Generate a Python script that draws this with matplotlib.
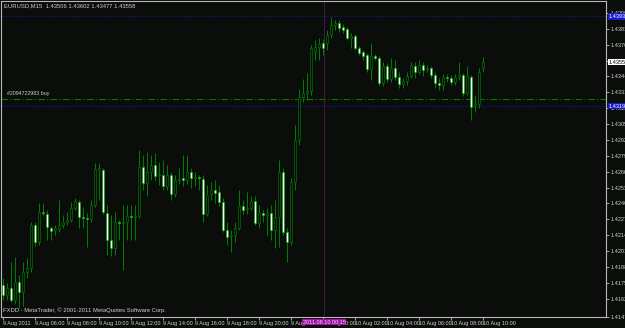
import matplotlib
matplotlib.use("Agg")
import matplotlib.pyplot as plt
import matplotlib.transforms as mtransforms

plt.rcParams['font.family'] = ['Liberation Sans', 'DejaVu Sans']

# EURUSD M15 bars, 9 Aug 2011 04:00 .. 10 Aug 2011 10:00
opens = [1.41732, 1.41650, 1.41707, 1.41609, 1.41756, 1.41675, 1.41838, 1.41871, 1.42223, 1.42084,
         1.42330, 1.42313, 1.42199, 1.42182, 1.42190, 1.42223, 1.42248, 1.42264, 1.42362, 1.42412,
         1.42289, 1.42281, 1.42272, 1.42387, 1.42674, 1.42674, 1.42322, 1.42100, 1.42035, 1.42248,
         1.42240, 1.42248, 1.42297, 1.42289, 1.42297, 1.42698, 1.42567, 1.42657, 1.42715, 1.42633,
         1.42633, 1.42543, 1.42633, 1.42477, 1.42592, 1.42608, 1.42592, 1.42657, 1.42608, 1.42616,
         1.42600, 1.42313, 1.42477, 1.42510, 1.42494, 1.42412, 1.42182, 1.42133, 1.42141, 1.42199,
         1.42379, 1.42354, 1.42362, 1.42420, 1.42240, 1.42322, 1.42305, 1.42322, 1.42182, 1.42289,
         1.42657, 1.42166, 1.42084, 1.42575, 1.42919, 1.43272, 1.43304, 1.43321, 1.43640, 1.43681,
         1.43714, 1.43714, 1.43779, 1.43861, 1.43878, 1.43845, 1.43828, 1.43755, 1.43771, 1.43673,
         1.43640, 1.43616, 1.43501, 1.43607, 1.43591, 1.43386, 1.43525, 1.43419, 1.43509, 1.43435,
         1.43378, 1.43403, 1.43444, 1.43525, 1.43476, 1.43534, 1.43501, 1.43509, 1.43452, 1.43386,
         1.43370, 1.43435, 1.43427, 1.43394, 1.43435, 1.43452, 1.43304, 1.43435, 1.43198, 1.43214,
         1.43506]
highs = [1.41789, 1.41748, 1.41920, 1.41961, 1.41814, 1.41920, 1.41953, 1.42248, 1.42248, 1.42403,
         1.42403, 1.42346, 1.42215, 1.42223, 1.42428, 1.42305, 1.42330, 1.42412, 1.42444, 1.42428,
         1.42371, 1.42322, 1.42428, 1.42731, 1.42731, 1.42690, 1.42387, 1.42305, 1.42330, 1.42264,
         1.42387, 1.42387, 1.42387, 1.42387, 1.42837, 1.42797, 1.42821, 1.42797, 1.42813, 1.42739,
         1.42756, 1.42715, 1.42657, 1.42633, 1.42690, 1.42797, 1.42797, 1.42690, 1.42657, 1.42633,
         1.42633, 1.42551, 1.42575, 1.42592, 1.42551, 1.42444, 1.42248, 1.42182, 1.42248, 1.42510,
         1.42428, 1.42494, 1.42461, 1.42461, 1.42387, 1.42346, 1.42362, 1.42387, 1.42428, 1.42756,
         1.42690, 1.42199, 1.42608, 1.43042, 1.43337, 1.43419, 1.43468, 1.43697, 1.43738, 1.43755,
         1.43747, 1.43820, 1.43927, 1.43902, 1.43902, 1.43869, 1.43845, 1.43796, 1.43788, 1.43689,
         1.43656, 1.43632, 1.43714, 1.43624, 1.43607, 1.43558, 1.43550, 1.43591, 1.43575, 1.43476,
         1.43427, 1.43476, 1.43558, 1.43558, 1.43575, 1.43558, 1.43534, 1.43525, 1.43476, 1.43427,
         1.43460, 1.43460, 1.43452, 1.43460, 1.43558, 1.43468, 1.43525, 1.43452, 1.43288, 1.43509,
         1.43602]
lows = [1.41609, 1.41609, 1.41593, 1.41576, 1.41543, 1.41560, 1.41789, 1.41838, 1.42051, 1.42059,
        1.42297, 1.42100, 1.42100, 1.42141, 1.42166, 1.42199, 1.42223, 1.42248, 1.42346, 1.42199,
        1.42199, 1.42043, 1.42248, 1.42371, 1.42428, 1.42313, 1.41978, 1.41969, 1.41978, 1.42100,
        1.41855, 1.42100, 1.42100, 1.42100, 1.42281, 1.42510, 1.42461, 1.42592, 1.42592, 1.42551,
        1.42510, 1.42510, 1.42428, 1.42453, 1.42559, 1.42543, 1.42559, 1.42526, 1.42543, 1.42510,
        1.42248, 1.42297, 1.42428, 1.42403, 1.42379, 1.42166, 1.42059, 1.42002, 1.42084, 1.42182,
        1.42313, 1.42313, 1.42346, 1.42223, 1.42199, 1.42248, 1.42141, 1.42100, 1.42035, 1.42043,
        1.42141, 1.41920, 1.42059, 1.42510, 1.42878, 1.43231, 1.43247, 1.43288, 1.43575, 1.43575,
        1.43616, 1.43656, 1.43755, 1.43820, 1.43804, 1.43796, 1.43738, 1.43673, 1.43656, 1.43616,
        1.43575, 1.43476, 1.43411, 1.43575, 1.43362, 1.43362, 1.43394, 1.43394, 1.43411, 1.43345,
        1.43345, 1.43370, 1.43427, 1.43427, 1.43460, 1.43444, 1.43476, 1.43427, 1.43345, 1.43329,
        1.43329, 1.43394, 1.43370, 1.43370, 1.43411, 1.43280, 1.43288, 1.43083, 1.43149, 1.43181,
        1.43477]
closes = [1.41650, 1.41707, 1.41609, 1.41756, 1.41675, 1.41838, 1.41871, 1.42223, 1.42084, 1.42330,
          1.42322, 1.42207, 1.42174, 1.42199, 1.42223, 1.42248, 1.42264, 1.42362, 1.42420, 1.42289,
          1.42281, 1.42272, 1.42387, 1.42682, 1.42690, 1.42330, 1.42100, 1.42035, 1.42248, 1.42240,
          1.42248, 1.42297, 1.42289, 1.42297, 1.42698, 1.42567, 1.42657, 1.42715, 1.42625, 1.42641,
          1.42543, 1.42633, 1.42477, 1.42592, 1.42600, 1.42592, 1.42657, 1.42608, 1.42616, 1.42608,
          1.42313, 1.42469, 1.42510, 1.42485, 1.42412, 1.42182, 1.42125, 1.42141, 1.42199, 1.42379,
          1.42346, 1.42362, 1.42420, 1.42240, 1.42322, 1.42305, 1.42322, 1.42182, 1.42289, 1.42657,
          1.42166, 1.42084, 1.42575, 1.42919, 1.43272, 1.43304, 1.43321, 1.43673, 1.43681, 1.43706,
          1.43673, 1.43779, 1.43861, 1.43878, 1.43837, 1.43820, 1.43755, 1.43771, 1.43673, 1.43632,
          1.43607, 1.43501, 1.43607, 1.43591, 1.43386, 1.43525, 1.43419, 1.43509, 1.43435, 1.43378,
          1.43403, 1.43444, 1.43534, 1.43476, 1.43534, 1.43493, 1.43509, 1.43452, 1.43386, 1.43370,
          1.43435, 1.43427, 1.43394, 1.43435, 1.43452, 1.43304, 1.43444, 1.43190, 1.43214, 1.43476,
          1.43558]

time_ticks = [0, 8, 16, 24, 32, 40, 48, 56, 64, 72, 80, 88, 96, 104, 112, 120]
time_labels = ["9 Aug 2011", "9 Aug 06:00", "9 Aug 08:00", "9 Aug 10:00", "9 Aug 12:00",
               "9 Aug 14:00", "9 Aug 16:00", "9 Aug 18:00", "9 Aug 20:00", "9 Aug 22:00",
               "10 Aug 00:00", "10 Aug 02:00", "10 Aug 04:00", "10 Aug 06:00",
               "10 Aug 08:00", "10 Aug 10:00"]
price_ticks = [1.41470, 1.41620, 1.41750, 1.41880, 1.42010, 1.42140, 1.42270, 1.42400, 1.42530,
               1.42660, 1.42790, 1.42920, 1.43050, 1.43180, 1.43310, 1.43440, 1.43570,
               1.43700, 1.43830, 1.43960]

order_price = 1.43255
order_label = "#2094722983 buy"
line_top = 1.43932
line_low = 1.43198
cross_bar = 80.3
cross_label = "2011.08.10 00:15"

bg = '#0a0d0a'
wick = '#009000'
frame = '#b8b8b8'
txt = '#d0d0d0'

fig = plt.figure(figsize=(6.25, 3.28), dpi=100, facecolor=bg)
ax = fig.add_axes([1 / 625, 11 / 328, 605 / 625, 316 / 328], facecolor=bg)

x = list(range(len(opens)))
# wicks
ax.vlines(x, lows, highs, color=wick, lw=0.6, zorder=2)
# bodies: bull hollow (black), bear white
for i in x:
    o, c = opens[i], closes[i]
    bull = c >= o
    ax.bar(i, abs(c - o), bottom=min(o, c), width=0.66,
           facecolor=bg if bull else '#f2fff2',
           edgecolor='#007a00' if bull else '#00a000', linewidth=0.45, zorder=3)

# order / horizontal lines
ax.axhline(order_price, color='#007a00', lw=0.8, ls=(0, (6, 2, 1, 2)), zorder=1)
ax.text(1.0, order_price + 0.00025, order_label, color=txt, fontsize=3.8, va='bottom')
ax.axhline(line_top, color='#1818b0', lw=0.7, ls=(0, (1, 1.5)), zorder=1)
ax.axhline(line_low, color='#1818b0', lw=0.8, ls=(0, (1, 1.5)), zorder=1)

# crosshair
ax.axvline(cross_bar, color='#4a1450', lw=0.7, zorder=1)

ax.set_xlim(-0.5, 150.75)
ax.set_ylim(1.41470, 1.44058)

for s in ax.spines.values():
    s.set_color(frame)
    s.set_linewidth(0.8)

ax.yaxis.tick_right()
ax.set_yticks(price_ticks)
ax.set_yticklabels([f"{p:.5f}" for p in price_ticks])
ax.tick_params(axis='y', colors=frame, labelcolor=txt, labelsize=4, length=2, width=0.6, pad=1)

ax.set_xticks(time_ticks)
ax.set_xticklabels(time_labels, ha='left')
ax.tick_params(axis='x', colors=frame, labelcolor=txt, labelsize=4, length=2, width=0.6, pad=1)

# price labels on the right scale
ytr = mtransforms.blended_transform_factory(ax.transAxes, ax.transData)
for val, fc, tc in [(line_top, '#1a1acc', 'white'), (line_low, '#1a1acc', 'white'),
                    (closes[-1], 'white', 'black')]:
    ax.text(1.004, val, f"{val:.5f}", transform=ytr, fontsize=4, color=tc, va='center',
            ha='left', clip_on=False, zorder=10,
            bbox=dict(boxstyle='square,pad=0.15', fc=fc, ec='none'))

# crosshair time label on the time scale
xtr = mtransforms.blended_transform_factory(ax.transData, ax.transAxes)
ax.text(cross_bar, -0.016, cross_label, transform=xtr, fontsize=4, color='#f0d0f0',
        ha='center', va='center', clip_on=False, zorder=10,
        bbox=dict(boxstyle='square,pad=0.15', fc='#a010a8', ec='none'))

fig.text(4 / 625, 1 - 6 / 328, "EURUSD,M15  1.43506 1.43602 1.43477 1.43558",
         color=txt, fontsize=4.2, va='center', ha='left')
ax.text(0.004, 0.012, "FXDD - MetaTrader, \u00a9 2001-2011 MetaQuotes Software Corp.",
        transform=ax.transAxes, color=txt, fontsize=4.2, va='bottom', ha='left')

fig.savefig("out.png", dpi=100, facecolor=bg)
